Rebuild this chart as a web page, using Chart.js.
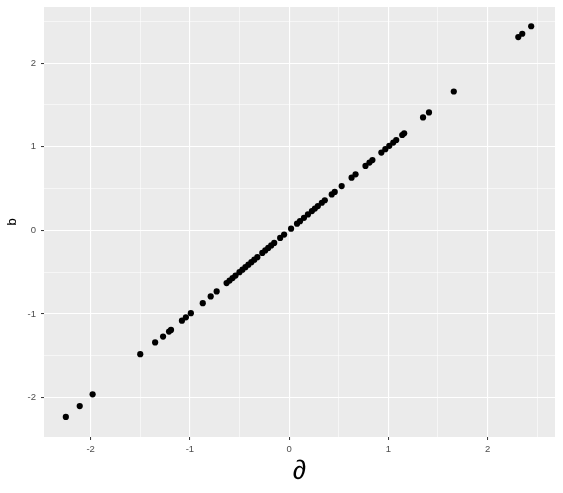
<!DOCTYPE html>
<html>
<head>
<meta charset="utf-8">
<script src="https://cdn.jsdelivr.net/npm/chart.js@4.4.1/dist/chart.umd.min.js"></script>
<style>
    html, body { margin: 0; padding: 0; background: #ffffff; }
    #wrap { width: 563px; height: 493px; }
</style>
</head>
<body>
<div id="wrap"><canvas id="scatterChart" width="563" height="493"></canvas></div>
<script>
// Values
const xValues = [-2.25, -2.11, -1.98, -1.50, -1.35, -1.27, -1.21, -1.19, -1.08, -1.04,
    -0.99, -0.87, -0.79, -0.73, -0.63, -0.60, -0.57, -0.54, -0.50, -0.47,
    -0.44, -0.41, -0.38, -0.35, -0.32, -0.27, -0.24, -0.21, -0.18, -0.15,
    -0.09, -0.05, 0.02, 0.08, 0.11, 0.15, 0.19, 0.23, 0.26, 0.29,
    0.33, 0.36, 0.43, 0.46, 0.53, 0.63, 0.67, 0.77, 0.81, 0.84,
    0.93, 0.97, 1.01, 1.05, 1.08, 1.14, 1.16, 1.35, 1.41, 1.66,
    2.31, 2.35, 2.44];
const yValues = [-2.23, -2.10, -1.96, -1.48, -1.34, -1.27, -1.21, -1.19, -1.08, -1.04,
    -0.99, -0.87, -0.79, -0.73, -0.63, -0.60, -0.57, -0.54, -0.50, -0.47,
    -0.44, -0.41, -0.38, -0.35, -0.32, -0.27, -0.24, -0.21, -0.18, -0.15,
    -0.09, -0.05, 0.02, 0.08, 0.11, 0.15, 0.19, 0.23, 0.26, 0.29,
    0.33, 0.36, 0.43, 0.46, 0.53, 0.63, 0.67, 0.77, 0.81, 0.84,
    0.93, 0.97, 1.01, 1.05, 1.08, 1.14, 1.16, 1.35, 1.41, 1.66,
    2.31, 2.35, 2.44];

const xMajorTicks = [-2, -1, 0, 1, 2];
const xMinorTicks = [-1.5, -0.5, 0.5, 1.5, 2.5];
const yMajorTicks = [-2, -1, 0, 1, 2];
const yMinorTicks = [-1.5, -0.5, 0.5, 1.5, 2.5];

const xLabel = '\u2202';
const yLabel = 'b';

const FONT = "'Liberation Sans', Arial, sans-serif";

// Grey panel behind the grid, ggplot style
const panelBackground = {
    id: 'panelBackground',
    beforeDraw(chart) {
        const area = chart.chartArea;
        const ctx = chart.ctx;
        ctx.save();
        ctx.fillStyle = '#EBEBEB';
        ctx.fillRect(area.left, area.top, area.right - area.left, area.bottom - area.top);
        ctx.restore();
    }
};

function axisOptions(majorTicks, minorTicks, title, isX) {
    const all = majorTicks.concat(minorTicks).sort(function(a, b) { return a - b; });
    const isMajor = function(v) { return majorTicks.indexOf(v) !== -1; };
    return {
        type: 'linear',
        position: isX ? 'bottom' : 'left',
        min: -2.47,
        max: isX ? 2.68 : 2.67,
        afterBuildTicks: function(scale) {
            scale.ticks = all.map(function(v) { return { value: v }; });
        },
        afterFit: function(scale) {
            // no extra room for the end labels, the layout padding handles it
            scale.paddingTop = 0;
            scale.paddingBottom = 0;
            scale.paddingLeft = 0;
            scale.paddingRight = 0;
            if (isX) scale.height = 56;
            else scale.width = 44;
        },
        border: { display: false },
        grid: {
            color: '#FFFFFF',
            lineWidth: function(c) { return c.tick && isMajor(c.tick.value) ? 1.1 : 0.55; },
            tickLength: 3,
            tickWidth: 1,
            tickColor: function(c) { return c.tick && isMajor(c.tick.value) ? '#333333' : 'rgba(0,0,0,0)'; }
        },
        ticks: {
            autoSkip: false,
            maxRotation: 0,
            padding: isX ? 4 : 5,
            color: '#4D4D4D',
            font: { family: FONT, size: 9.5 },
            callback: function(value) { return isMajor(value) ? String(value) : ''; }
        },
        title: {
            display: true,
            text: title,
            color: '#000000',
            font: isX ? { family: FONT, size: 27, lineHeight: 1 } : { family: FONT, size: 13, lineHeight: 1 },
            padding: isX ? { top: 0, bottom: 8 } : { top: 6, bottom: 0 }
        }
    };
}

const ctx = document.getElementById('scatterChart').getContext('2d');
const chart = new Chart(ctx, {
    type: 'scatter',
    data: {
        datasets: [{
            data: xValues.map(function(x, i) { return { x: x, y: yValues[i] }; }),
            backgroundColor: '#000000',
            borderColor: '#000000',
            borderWidth: 0,
            pointRadius: 3.1
        }]
    },
    options: {
        responsive: false,
        animation: false,
        layout: { padding: { left: 0, top: 7, right: 8, bottom: 0 } },
        plugins: {
            legend: { display: false },
            tooltip: { enabled: false }
        },
        scales: {
            x: axisOptions(xMajorTicks, xMinorTicks, xLabel, true),
            y: axisOptions(yMajorTicks, yMinorTicks, yLabel, false)
        }
    },
    plugins: [panelBackground]
});
</script>
</body>
</html>
